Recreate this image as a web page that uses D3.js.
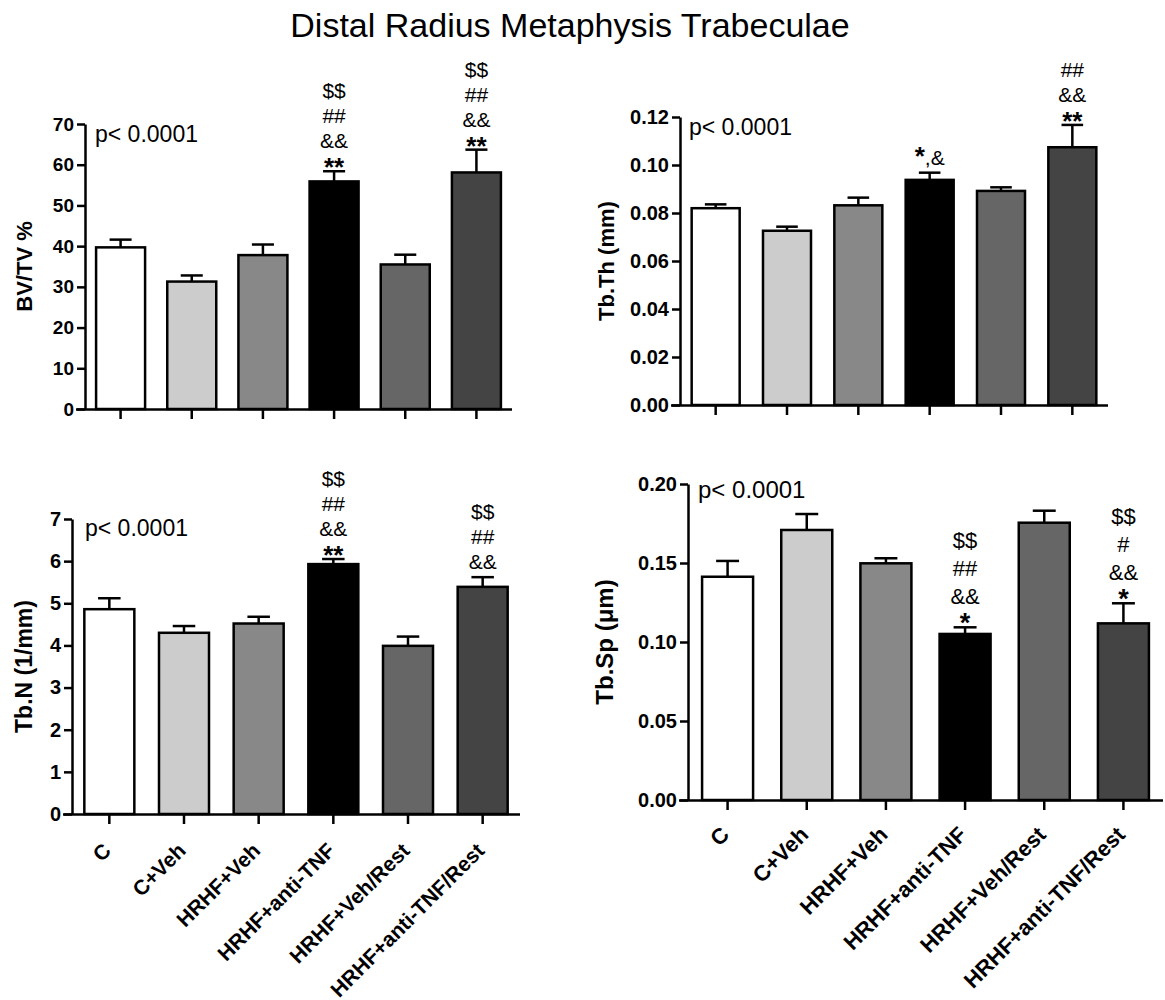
<!DOCTYPE html>
<html>
<head>
<meta charset="utf-8">
<script src="https://cdn.jsdelivr.net/npm/d3@7"></script>
<style>
  body { margin: 0; background: #fff; }
  svg text { font-family: "Liberation Sans", Arial, sans-serif; fill: #000; }
</style>
</head>
<body>
<svg id="fig" width="1165" height="1000"></svg>
<script>
// groups + fills shared by every panel
const groups = ["C", "C+Veh", "HRHF+Veh", "HRHF+anti-TNF", "HRHF+Veh/Rest", "HRHF+anti-TNF/Rest"];
const barFills = ["#ffffff", "#cccccc", "#888888", "#000000", "#666666", "#444444"];

// BV/TV %
const bvtvMean = [39.7, 31.3, 37.8, 55.9, 35.5, 58.1];
const bvtvSem = [1.9, 1.5, 2.6, 2.5, 2.4, 5.6];
const bvtvMarks = [[], [], [], ["**", "&&", "##", "$$"], [], ["**", "&&", "##", "$$"]];
const bvtvTicks = [0, 10, 20, 30, 40, 50, 60, 70];

// Tb.Th (mm)
const tbThMean = [0.0820, 0.0726, 0.0832, 0.0938, 0.0892, 0.1074];
const tbThSem = [0.0016, 0.0017, 0.0032, 0.0030, 0.0015, 0.0093];
const tbThMarks = [[], [], [], ["*,&"], [], ["**", "&&", "##"]];
const tbThTicks = [0, 0.02, 0.04, 0.06, 0.08, 0.10, 0.12];

// Tb.N (1/mm)
const tbNMean = [4.86, 4.30, 4.52, 5.93, 3.99, 5.39];
const tbNSem = [0.26, 0.16, 0.16, 0.12, 0.22, 0.23];
const tbNMarks = [[], [], [], ["**", "&&", "##", "$$"], [], ["&&", "##", "$$"]];
const tbNTicks = [0, 1, 2, 3, 4, 5, 6, 7];

// Tb.Sp (um)
const tbSpMean = [0.1413, 0.1709, 0.1498, 0.1051, 0.1755, 0.1118];
const tbSpSem = [0.0100, 0.0101, 0.0032, 0.0042, 0.0076, 0.0127];
const tbSpMarks = [[], [], [], ["*", "&&", "##", "$$"], [], ["*", "&&", "#", "$$"]];
const tbSpTicks = [0, 0.05, 0.10, 0.15, 0.20];

const pLabel = "p< 0.0001";

const svg = d3.select("#fig");

svg.append("text")
    .attr("x", 570).attr("y", 37)
    .attr("text-anchor", "middle")
    .style("font-size", "34px")
    .text("Distal Radius Metaphysis Trabeculae");

// layout of each panel (pixels), values come from the arrays above
const panels = [
  { mean: bvtvMean, sem: bvtvSem, marks: bvtvMarks, ticks: bvtvTicks, fmt: d3.format("d"),
    x0: 85, x1: 512, yTop: 124, yBot: 409, barW: 49, tickFont: 19,
    yLabel: "BV/TV %", yLabelX: 24, yLabelFont: 22, pX: 95, pY: 142, pFont: 23,
    markFont: 21, starFont: 26, lineGap: 25, xLabels: false, xLabelFont: 21, xLabelDrop: 38 },
  { mean: tbThMean, sem: tbThSem, marks: tbThMarks, ticks: tbThTicks, fmt: d3.format(".2f"),
    x0: 680, x1: 1108, yTop: 117, yBot: 405, barW: 48, tickFont: 20,
    yLabel: "Tb.Th (mm)", yLabelX: 606, yLabelFont: 22, pX: 689, pY: 135, pFont: 23,
    markFont: 21, starFont: 26, lineGap: 25, xLabels: false, xLabelFont: 21, xLabelDrop: 38 },
  { mean: tbNMean, sem: tbNSem, marks: tbNMarks, ticks: tbNTicks, fmt: d3.format("d"),
    x0: 72, x1: 520, yTop: 519, yBot: 814, barW: 50, tickFont: 20,
    yLabel: "Tb.N (1/mm)", yLabelX: 24, yLabelFont: 23, pX: 85, pY: 536, pFont: 23,
    markFont: 21, starFont: 26, lineGap: 25, xLabels: true, xLabelFont: 21, xLabelDrop: 38 },
  { mean: tbSpMean, sem: tbSpSem, marks: tbSpMarks, ticks: tbSpTicks, fmt: d3.format(".2f"),
    x0: 688, x1: 1163, yTop: 484, yBot: 800, barW: 51, tickFont: 20,
    yLabel: "Tb.Sp (\u03bcm)", yLabelX: 605, yLabelFont: 24, pX: 698, pY: 498, pFont: 24,
    markFont: 22, starFont: 27, lineGap: 28, xLabels: true, xLabelFont: 22, xLabelDrop: 36 }
];

panels.forEach(p => drawPanel(p));

function isStars(s) { return /^\*+$/.test(s); }

function drawPanel(p) {
    let g = svg.append("g");
    let step = (p.x1 - p.x0) / groups.length;
    let pad = 1 - p.barW / step;
    let xScale = d3.scaleBand().domain(groups).range([p.x0, p.x1])
        .paddingInner(pad).paddingOuter(pad / 2);
    let yScale = d3.scaleLinear()
        .domain([p.ticks[0], p.ticks[p.ticks.length - 1]])
        .range([p.yBot, p.yTop]);

    let rows = groups.map((name, i) => ({
        name: name, mean: p.mean[i], top: p.mean[i] + p.sem[i], fill: barFills[i], marks: p.marks[i]
    }));

    // error bars (upper only)
    let capW = xScale.bandwidth() * 0.45;
    let err = g.append("g").attr("stroke", "#000").attr("stroke-width", 2.5);
    err.selectAll("line.stem").data(rows).join("line").classed("stem", true)
        .attr("x1", d => xScale(d.name) + xScale.bandwidth() / 2)
        .attr("x2", d => xScale(d.name) + xScale.bandwidth() / 2)
        .attr("y1", d => yScale(d.mean))
        .attr("y2", d => yScale(d.top));
    err.selectAll("line.cap").data(rows).join("line").classed("cap", true)
        .attr("x1", d => xScale(d.name) + xScale.bandwidth() / 2 - capW / 2)
        .attr("x2", d => xScale(d.name) + xScale.bandwidth() / 2 + capW / 2)
        .attr("y1", d => yScale(d.top))
        .attr("y2", d => yScale(d.top));

    g.append("g").selectAll("rect").data(rows).join("rect")
        .attr("x", d => xScale(d.name))
        .attr("y", d => yScale(d.mean))
        .attr("width", xScale.bandwidth())
        .attr("height", d => yScale(0) - yScale(d.mean))
        .attr("fill", d => d.fill)
        .attr("stroke", "#000")
        .attr("stroke-width", 2.5);

    // significance marks, stacked upward from the error cap
    rows.forEach(d => {
        if (!d.marks.length) return;
        let cx = xScale(d.name) + xScale.bandwidth() / 2;
        let starFirst = isStars(d.marks[0]);
        let y = yScale(d.top) + (starFirst ? 5 : -8);
        d.marks.forEach((m, k) => {
            if (k > 0) y -= (k === 1 && starFirst) ? 28 : p.lineGap;
            let t = g.append("text")
                .attr("x", cx).attr("y", y)
                .attr("text-anchor", "middle")
                .style("font-size", p.markFont + "px");
            // asterisks are set bold and larger, the rest plain
            m.match(/\*+|[^*]+/g).forEach(run => {
                t.append("tspan")
                    .style("font-size", (isStars(run) ? p.starFont : p.markFont) + "px")
                    .style("font-weight", isStars(run) ? "bold" : "normal")
                    .text(run);
            });
        });
    });

    // axes
    let yAxis = g.append("g")
        .attr("transform", `translate(${p.x0},0)`)
        .call(d3.axisLeft(yScale).tickValues(p.ticks).tickFormat(p.fmt)
            .tickSize(8).tickPadding(3).tickSizeOuter(0));
    yAxis.selectAll("path, line").attr("stroke", "#000").attr("stroke-width", 2.5);
    yAxis.selectAll("text")
        .style("font-size", p.tickFont + "px")
        .style("font-weight", "bold")
        .style("font-family", "'Liberation Sans', Arial, sans-serif")
        .attr("fill", "#000");

    let xAxis = g.append("g")
        .attr("transform", `translate(0,${p.yBot})`)
        .call(d3.axisBottom(xScale).tickSize(10).tickSizeOuter(0)
            .tickFormat(p.xLabels ? (d => d) : ""));
    xAxis.selectAll("path, line").attr("stroke", "#000").attr("stroke-width", 2.5);
    xAxis.select(".domain").attr("d", `M${p.x0 - 9},0.5H${p.x1}`);
    xAxis.selectAll("text")
        .attr("x", 0).attr("y", 0).attr("dy", 0)
        .attr("text-anchor", "end")
        .attr("transform", `translate(3,${p.xLabelDrop}) rotate(-45)`)
        .style("font-size", p.xLabelFont + "px")
        .style("font-weight", "bold")
        .style("font-family", "'Liberation Sans', Arial, sans-serif")
        .attr("fill", "#000");

    g.append("text")
        .attr("transform", `translate(${p.yLabelX},${(p.yTop + p.yBot) / 2}) rotate(-90)`)
        .attr("text-anchor", "middle")
        .attr("dy", "0.35em")
        .style("font-size", p.yLabelFont + "px")
        .style("font-weight", "bold")
        .text(p.yLabel);

    g.append("text")
        .attr("x", p.pX).attr("y", p.pY)
        .style("font-size", p.pFont + "px")
        .text(pLabel);
}
</script>
</body>
</html>
